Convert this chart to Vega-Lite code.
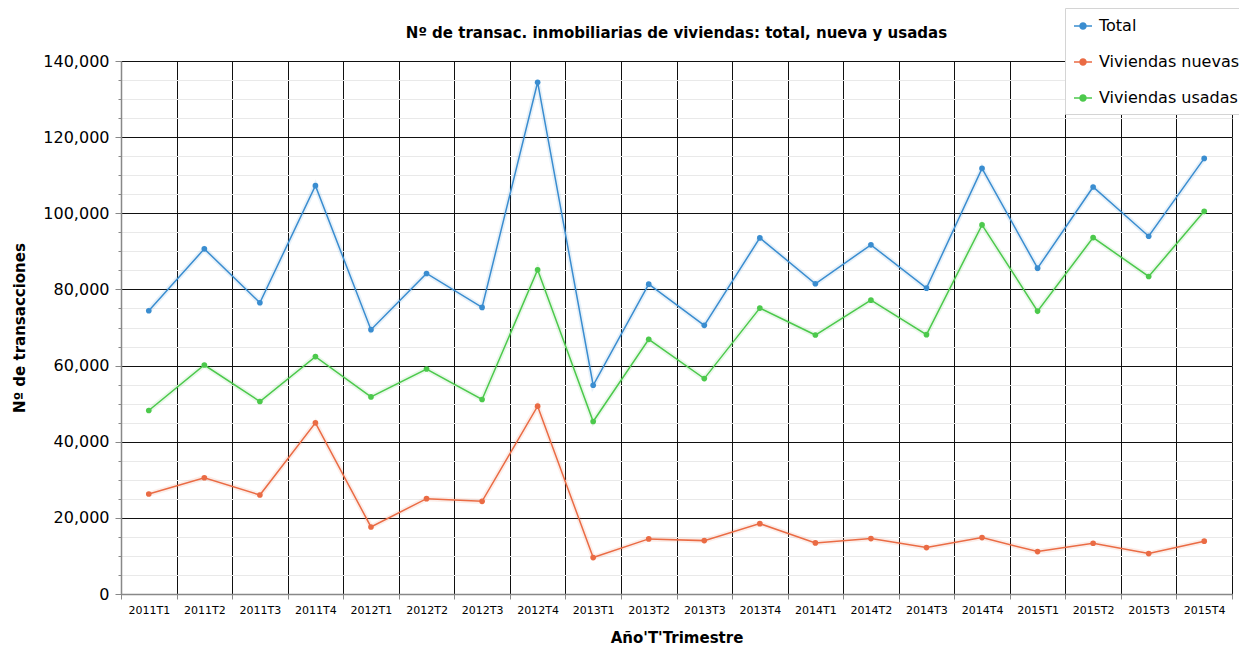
{
  "$schema": "https://vega.github.io/schema/vega-lite/v6.json",
  "width": 1111,
  "height": 533,
  "autosize": {"type": "none"},
  "padding": {"left": 121, "top": 61, "right": 7, "bottom": 52},
  "background": "white",
  "config": {"font": "DejaVu Sans", "view": {"stroke": null}},
  "title": {
    "text": "Nº de transac. inmobiliarias de viviendas: total, nueva y usadas",
    "fontSize": 15,
    "fontWeight": "bold",
    "font": "DejaVu Sans",
    "color": "#000",
    "anchor": "middle",
    "offset": 22,
    "dy": 55
  },
  "data": {
    "values": [
      {"periodo": "2011T1", "serie": "Total", "valor": 74410},
      {"periodo": "2011T2", "serie": "Total", "valor": 90660},
      {"periodo": "2011T3", "serie": "Total", "valor": 76510},
      {"periodo": "2011T4", "serie": "Total", "valor": 107250},
      {"periodo": "2012T1", "serie": "Total", "valor": 69430},
      {"periodo": "2012T2", "serie": "Total", "valor": 84190},
      {"periodo": "2012T3", "serie": "Total", "valor": 75280},
      {"periodo": "2012T4", "serie": "Total", "valor": 134430},
      {"periodo": "2013T1", "serie": "Total", "valor": 54830},
      {"periodo": "2013T2", "serie": "Total", "valor": 81380},
      {"periodo": "2013T3", "serie": "Total", "valor": 70560},
      {"periodo": "2013T4", "serie": "Total", "valor": 93540},
      {"periodo": "2014T1", "serie": "Total", "valor": 81490},
      {"periodo": "2014T2", "serie": "Total", "valor": 91710},
      {"periodo": "2014T3", "serie": "Total", "valor": 80340},
      {"periodo": "2014T4", "serie": "Total", "valor": 111790},
      {"periodo": "2015T1", "serie": "Total", "valor": 85580},
      {"periodo": "2015T2", "serie": "Total", "valor": 106910},
      {"periodo": "2015T3", "serie": "Total", "valor": 93970},
      {"periodo": "2015T4", "serie": "Total", "valor": 114410},
      {"periodo": "2011T1", "serie": "Viviendas nuevas", "valor": 26260},
      {"periodo": "2011T2", "serie": "Viviendas nuevas", "valor": 30540},
      {"periodo": "2011T3", "serie": "Viviendas nuevas", "valor": 26000},
      {"periodo": "2011T4", "serie": "Viviendas nuevas", "valor": 44960},
      {"periodo": "2012T1", "serie": "Viviendas nuevas", "valor": 17610},
      {"periodo": "2012T2", "serie": "Viviendas nuevas", "valor": 25040},
      {"periodo": "2012T3", "serie": "Viviendas nuevas", "valor": 24340},
      {"periodo": "2012T4", "serie": "Viviendas nuevas", "valor": 49330},
      {"periodo": "2013T1", "serie": "Viviendas nuevas", "valor": 9570},
      {"periodo": "2013T2", "serie": "Viviendas nuevas", "valor": 14470},
      {"periodo": "2013T3", "serie": "Viviendas nuevas", "valor": 14020},
      {"periodo": "2013T4", "serie": "Viviendas nuevas", "valor": 18480},
      {"periodo": "2014T1", "serie": "Viviendas nuevas", "valor": 13420},
      {"periodo": "2014T2", "serie": "Viviendas nuevas", "valor": 14550},
      {"periodo": "2014T3", "serie": "Viviendas nuevas", "valor": 12190},
      {"periodo": "2014T4", "serie": "Viviendas nuevas", "valor": 14810},
      {"periodo": "2015T1", "serie": "Viviendas nuevas", "valor": 11140},
      {"periodo": "2015T2", "serie": "Viviendas nuevas", "valor": 13340},
      {"periodo": "2015T3", "serie": "Viviendas nuevas", "valor": 10620},
      {"periodo": "2015T4", "serie": "Viviendas nuevas", "valor": 13870},
      {"periodo": "2011T1", "serie": "Viviendas usadas", "valor": 48200},
      {"periodo": "2011T2", "serie": "Viviendas usadas", "valor": 60150},
      {"periodo": "2011T3", "serie": "Viviendas usadas", "valor": 50560},
      {"periodo": "2011T4", "serie": "Viviendas usadas", "valor": 62350},
      {"periodo": "2012T1", "serie": "Viviendas usadas", "valor": 51770},
      {"periodo": "2012T2", "serie": "Viviendas usadas", "valor": 59100},
      {"periodo": "2012T3", "serie": "Viviendas usadas", "valor": 51080},
      {"periodo": "2012T4", "serie": "Viviendas usadas", "valor": 85150},
      {"periodo": "2013T1", "serie": "Viviendas usadas", "valor": 45310},
      {"periodo": "2013T2", "serie": "Viviendas usadas", "valor": 66890},
      {"periodo": "2013T3", "serie": "Viviendas usadas", "valor": 56580},
      {"periodo": "2013T4", "serie": "Viviendas usadas", "valor": 75090},
      {"periodo": "2014T1", "serie": "Viviendas usadas", "valor": 68020},
      {"periodo": "2014T2", "serie": "Viviendas usadas", "valor": 77190},
      {"periodo": "2014T3", "serie": "Viviendas usadas", "valor": 68120},
      {"periodo": "2014T4", "serie": "Viviendas usadas", "valor": 96950},
      {"periodo": "2015T1", "serie": "Viviendas usadas", "valor": 74310},
      {"periodo": "2015T2", "serie": "Viviendas usadas", "valor": 93620},
      {"periodo": "2015T3", "serie": "Viviendas usadas", "valor": 83400},
      {"periodo": "2015T4", "serie": "Viviendas usadas", "valor": 100520}
    ]
  },
  "encoding": {
    "x": {
      "field": "periodo",
      "type": "ordinal",
      "sort": null,
      "bandPosition": 0.5,
      "scale": {"type": "band", "paddingInner": 0, "paddingOuter": 0},
      "axis": {
        "title": "Año'T'Trimestre",
        "tickBand": "extent",
        "grid": true,
        "gridColor": "#111",
        "gridOpacity": 1,
        "gridWidth": 1,
        "domainColor": "#888",
        "domainWidth": 1.5,
        "tickColor": "#888",
        "tickSize": 5,
        "labelAngle": 0,
        "labelFontSize": 11,
        "labelColor": "#000",
        "labelPadding": 5,
        "titleFontSize": 15,
        "titleFontWeight": "bold",
        "titleColor": "#000",
        "titlePadding": 15
      }
    },
    "color": {
      "field": "serie",
      "type": "nominal",
      "scale": {
        "domain": ["Total", "Viviendas nuevas", "Viviendas usadas"],
        "range": ["#3a8dd0", "#ea6b44", "#4cc94c"]
      },
      "legend": {
        "title": null,
        "orient": "none",
        "legendX": 944,
        "legendY": -53,
        "fillColor": "white",
        "strokeColor": "#d4d4d4",
        "padding": 8,
        "symbolType": "M-1,0L1,0M-0.33,0A0.33,0.33,0,1,1,0.33,0A0.33,0.33,0,1,1,-0.33,0Z",
        "symbolSize": 324,
        "symbolStrokeWidth": 1.5,
        "labelFontSize": 16,
        "labelColor": "#000",
        "labelOffset": 6,
        "labelLimit": 400,
        "rowPadding": 18,
        "encode": {
          "symbols": {
            "update": {
              "fill": {"scale": "color", "field": "value"},
              "stroke": {"scale": "color", "field": "value"},
              "fillOpacity": {"value": 1}
            }
          }
        }
      }
    }
  },
  "layer": [
    {
      "mark": {"type": "line", "strokeWidth": 5, "opacity": 0.12},
      "encoding": {
        "y": {
          "field": "valor",
          "type": "quantitative",
          "scale": {"domain": [0, 140000], "nice": false},
          "axis": {
            "orient": "left",
            "values": [0, 5000, 10000, 15000, 20000, 25000, 30000, 35000, 40000, 45000, 50000, 55000, 60000, 65000, 70000, 75000, 80000, 85000, 90000, 95000, 100000, 105000, 110000, 115000, 120000, 125000, 130000, 135000, 140000],
            "grid": true,
            "gridColor": "#e9e9e9",
            "labels": false,
            "title": null,
            "domain": false,
            "tickSize": 3,
            "tickColor": "#888"
          }
        }
      }
    },
    {
      "mark": {"type": "line", "strokeWidth": 1.5},
      "encoding": {
        "y": {"field": "valor", "type": "quantitative", "axis": null}
      }
    },
    {
      "mark": {"type": "point", "filled": true, "size": 32, "opacity": 1},
      "encoding": {
        "y": {
          "field": "valor",
          "type": "quantitative",
          "axis": {
            "orient": "left",
            "values": [0, 20000, 40000, 60000, 80000, 100000, 120000, 140000],
            "format": ",d",
            "grid": true,
            "gridColor": "#111",
            "gridOpacity": 1,
            "domainColor": "#888",
            "domainWidth": 1.5,
            "tickColor": "#888",
            "tickSize": 6,
            "labelFontSize": 16,
            "labelColor": "#000",
            "labelPadding": 6,
            "title": "Nº de transacciones",
            "titleFontSize": 15,
            "titleFontWeight": "bold",
            "titleColor": "#000",
            "titlePadding": 15
          }
        }
      }
    }
  ],
  "resolve": {"axis": {"y": "independent"}}
}
